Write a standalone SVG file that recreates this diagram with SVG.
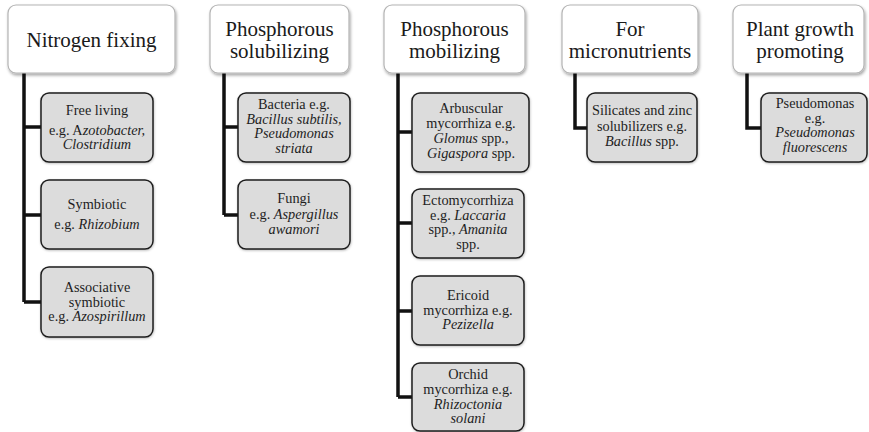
<svg xmlns="http://www.w3.org/2000/svg" width="869" height="432" viewBox="0 0 869 432">
<style>
.top{fill:#ffffff;stroke:#b4b4b4;stroke-width:1.2;filter:url(#sh)}
.child{fill:#dcdcdc;stroke:#1e1e1e;stroke-width:1.5;filter:url(#sh2)}
.tt{font-size:21px;fill:#1a1a1a;text-anchor:middle}
.ct{font-size:14.3px;fill:#1e1e1e;text-anchor:middle}
.i{font-style:italic}
.conn{fill:none;stroke:#111;stroke-width:3.5;stroke-linejoin:miter}
</style>
<defs>
<filter id="sh" x="-10%" y="-10%" width="125%" height="130%">
<feDropShadow dx="1" dy="2" stdDeviation="1.8" flood-color="#000" flood-opacity="0.35"/>
</filter>
<filter id="sh2" x="-10%" y="-10%" width="125%" height="130%">
<feDropShadow dx="0.5" dy="1" stdDeviation="0.8" flood-color="#000" flood-opacity="0.25"/>
</filter>
</defs>
<rect width="869" height="432" fill="#ffffff"/>

<g id="connectors">
<path class="conn" d="M24,73 V302 M24,127 H42 M24,215 H42 M24,302 H42"/>
<path class="conn" d="M224,73 V215 M224,127 H238 M224,215 H238"/>
<path class="conn" d="M398,73 V397 M398,132 H412 M398,223 H412 M398,311 H412 M398,397 H412"/>
<path class="conn" d="M575,73 V128 H587"/>
<path class="conn" d="M747,73 V128 H761"/>
</g>

<g font-family="Liberation Serif, Times New Roman, DejaVu Serif, serif">
<g id="n-nitrogen">
<rect class="top" x="8" y="5" width="167" height="68" rx="8"/>
<text class="tt" x="91.5" y="47">Nitrogen fixing</text>
</g>
<g id="n-psol">
<rect class="top" x="210" y="5" width="139" height="68" rx="8"/>
<text class="tt" x="279.5" y="35.5">Phosphorous</text>
<text class="tt" x="279.5" y="58">solubilizing</text>
</g>
<g id="n-pmob">
<rect class="top" x="384" y="5" width="141" height="68" rx="8"/>
<text class="tt" x="454.5" y="35.5">Phosphorous</text>
<text class="tt" x="454.5" y="58">mobilizing</text>
</g>
<g id="n-micro">
<rect class="top" x="562" y="5" width="136" height="68" rx="8"/>
<text class="tt" x="630" y="35.5">For</text>
<text class="tt" x="630" y="58">micronutrients</text>
</g>
<g id="n-pgp">
<rect class="top" x="733" y="5" width="131" height="68" rx="8"/>
<text class="tt" x="800" y="35.5">Plant growth</text>
<text class="tt" x="800" y="58">promoting</text>
</g>

<g id="n-free">
<rect class="child" x="41" y="93" width="112" height="69" rx="8"/>
<text class="ct" x="97" y="115">Free living</text>
<text class="ct" x="97" y="134.5">e.g. A<tspan class="i">zotobacter,</tspan></text>
<text class="ct" x="97" y="149"><tspan class="i">Clostridium</tspan></text>
</g>
<g id="n-symb">
<rect class="child" x="41" y="180" width="112" height="69" rx="8"/>
<text class="ct" x="97" y="209">Symbiotic</text>
<text class="ct" x="97" y="228.5">e.g. <tspan class="i">Rhizobium</tspan></text>
</g>
<g id="n-assoc">
<rect class="child" x="41" y="267" width="112" height="70" rx="8"/>
<text class="ct" x="97" y="292">Associative</text>
<text class="ct" x="97" y="306.5">symbiotic</text>
<text class="ct" x="97" y="321">e.g. <tspan class="i">Azospirillum</tspan></text>
</g>

<g id="n-bact">
<rect class="child" x="238" y="93" width="112" height="69" rx="8"/>
<text class="ct" x="294" y="108.5">Bacteria e.g.</text>
<text class="ct" x="294" y="123.5"><tspan class="i">Bacillus subtilis,</tspan></text>
<text class="ct" x="294" y="138"><tspan class="i">Pseudomonas</tspan></text>
<text class="ct" x="294" y="152.5"><tspan class="i">striata</tspan></text>
</g>
<g id="n-fungi">
<rect class="child" x="238" y="180" width="112" height="69" rx="8"/>
<text class="ct" x="294" y="203">Fungi</text>
<text class="ct" x="294" y="219">e.g. <tspan class="i">Aspergillus</tspan></text>
<text class="ct" x="294" y="233.5"><tspan class="i">awamori</tspan></text>
</g>

<g id="n-arbus">
<rect class="child" x="412" y="93" width="117" height="79" rx="8"/>
<text class="ct" x="471" y="113">Arbuscular</text>
<text class="ct" x="471" y="128">mycorrhiza e.g.</text>
<text class="ct" x="471" y="143"><tspan class="i">Glomus</tspan> spp.,</text>
<text class="ct" x="471" y="158"><tspan class="i">Gigaspora</tspan> spp.</text>
</g>
<g id="n-ecto">
<rect class="child" x="412" y="189" width="112" height="69" rx="8"/>
<text class="ct" x="468" y="205">Ectomycorrhiza</text>
<text class="ct" x="468" y="219.5">e.g. <tspan class="i">Laccaria</tspan></text>
<text class="ct" x="468" y="234">spp., <tspan class="i">Amanita</tspan></text>
<text class="ct" x="468" y="248.5">spp.</text>
</g>
<g id="n-eric">
<rect class="child" x="412" y="276" width="112" height="69" rx="8"/>
<text class="ct" x="468" y="299.5">Ericoid</text>
<text class="ct" x="468" y="314.5">mycorrhiza e.g.</text>
<text class="ct" x="468" y="329"><tspan class="i">Pezizella</tspan></text>
</g>
<g id="n-orch">
<rect class="child" x="412" y="363" width="112" height="68" rx="8"/>
<text class="ct" x="468" y="379">Orchid</text>
<text class="ct" x="468" y="393.5">mycorrhiza e.g.</text>
<text class="ct" x="468" y="408.5"><tspan class="i">Rhizoctonia</tspan></text>
<text class="ct" x="468" y="423"><tspan class="i">solani</tspan></text>
</g>

<g id="n-silic">
<rect class="child" x="587" y="93" width="110" height="69" rx="8"/>
<text class="ct" x="642" y="115">Silicates and zinc</text>
<text class="ct" x="642" y="130.5">solubilizers e.g.</text>
<text class="ct" x="642" y="145.5"><tspan class="i">Bacillus</tspan> spp.</text>
</g>
<g id="n-pseudo">
<rect class="child" x="761" y="93" width="106" height="69" rx="8"/>
<text class="ct" x="815" y="107.5">Pseudomonas</text>
<text class="ct" x="815" y="122.5">e.g.</text>
<text class="ct" x="815" y="137"><tspan class="i">Pseudomonas</tspan></text>
<text class="ct" x="815" y="151.5"><tspan class="i">fluorescens</tspan></text>
</g>
</g>
</svg>
